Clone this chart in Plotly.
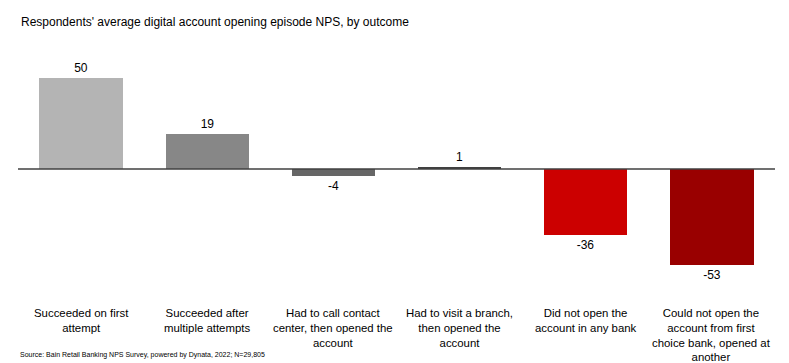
import plotly.graph_objects as go

categories = [
    "Succeeded on first<br>attempt",
    "Succeeded after<br>multiple attempts",
    "Had to call contact<br>center, then opened the<br>account",
    "Had to visit a branch,<br>then opened the<br>account",
    "Did not open the<br>account in any bank",
    "Could not open the<br>account from first<br>choice bank, opened at<br>another",
]
values = [50, 19, -4, 1, -36, -53]
colors = ["#B4B4B4", "#878787", "#666666", "#404040", "#CC0000", "#990000"]
value_labels = ["50", "19", "-4", "1", "-36", "-53"]

title_text = "Respondents' average digital account opening episode NPS, by outcome"
source_text = "Source: Bain Retail Banking NPS Survey, powered by Dynata, 2022; N=29,805"

FONT = "Liberation Sans, Arial, sans-serif"

W, H = 789, 363
L, R, T, B = 18, 14, 60, 73
pw, ph = W - L - R, H - T - B


def px2paper_x(px):
    return (px - L) / pw


def px2paper_y(py):
    return (H - B - py) / ph


xs = list(range(len(categories)))

fig = go.Figure()
fig.add_trace(go.Bar(
    x=xs, y=values,
    marker=dict(color=colors, line=dict(width=0)),
    width=0.66,
    text=value_labels,
    textposition="outside",
    textfont=dict(family=FONT, size=12, color="#000000"),
    cliponaxis=False,
    hoverinfo="skip",
))

# zero line
fig.add_shape(type="line", xref="paper", yref="y", x0=0, x1=1, y0=0, y1=0,
              line=dict(color="#404040", width=1.5))

for i, c in enumerate(categories):
    fig.add_annotation(
        x=i, xref="x", y=px2paper_y(305), yref="paper", yanchor="top", xanchor="center",
        text=c, showarrow=False, align="center",
        font=dict(family=FONT, size=11.4, color="#000000"),
    )
fig.add_annotation(
    x=px2paper_x(19), xref="paper", xanchor="left",
    y=px2paper_y(22), yref="paper", yanchor="middle",
    text=title_text, showarrow=False,
    font=dict(family=FONT, size=12, color="#000000"),
)
fig.add_annotation(
    x=px2paper_x(18), xref="paper", xanchor="left",
    y=px2paper_y(355), yref="paper", yanchor="middle",
    text=source_text, showarrow=False,
    font=dict(family=FONT, size=7, color="#000000"),
)

fig.update_layout(
    width=W, height=H,
    margin=dict(l=L, r=R, t=T, b=B),
    paper_bgcolor="white", plot_bgcolor="white",
    showlegend=False,
    bargap=0,
    xaxis=dict(range=[-0.5, 5.5], showticklabels=False, showgrid=False, zeroline=False,
               showline=False, ticks=""),
    yaxis=dict(range=[-66.5, 59.9], showticklabels=False, showgrid=False, zeroline=False,
               showline=False, ticks=""),
    font=dict(family=FONT),
)

fig.write_html("out.html", config={"displayModeBar": False},
               post_script="document.body.style.margin='0';")
